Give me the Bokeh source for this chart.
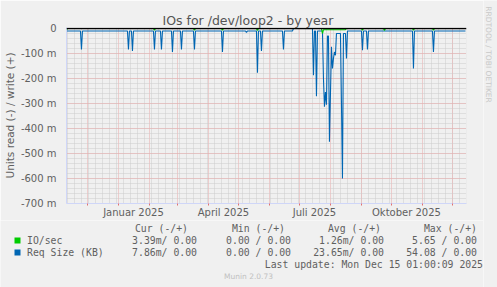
import math
import pandas as pd
from bokeh.plotting import figure
from bokeh.layouts import column, row
from bokeh.models import Range1d, FixedTicker, Span
from bokeh.core.properties import value
from bokeh.embed import file_html
from bokeh.resources import INLINE

# ---------------- data ----------------
TITLE = "IOs for /dev/loop2 - by year"
Y_LABEL = "Units read (-) / write (+)"
LAST_UPDATE = "2025-12-15 01:00:09"
RANGE_DAYS = 400

y_ticks = [0, -100, -200, -300, -400, -500, -600, -700]
y_tick_labels = ["0", "-100 m", "-200 m", "-300 m", "-400 m", "-500 m", "-600 m", "-700 m"]
y_minor_step = 20

x_label_dates = ["2025-01-16", "2025-04-16", "2025-07-16", "2025-10-16"]
x_label_texts = ["Januar 2025", "April 2025", "Juli 2025", "Oktober 2025"]

# Req Size (KB), read side (values in milli-units)
req_dates = [
    "2024-11-10", "2024-11-24", "2024-11-25", "2024-11-26",
    "2025-01-10", "2025-01-11", "2025-01-12",
    "2025-01-14", "2025-01-15", "2025-01-16",
    "2025-02-05", "2025-02-06", "2025-02-07",
    "2025-02-12", "2025-02-13", "2025-02-14",
    "2025-02-23", "2025-02-24", "2025-02-25",
    "2025-03-04", "2025-03-05", "2025-03-06",
    "2025-03-17", "2025-03-18", "2025-03-19",
    "2025-04-14", "2025-04-15", "2025-04-16",
    "2025-05-08", "2025-05-09", "2025-05-10",
    "2025-05-19", "2025-05-20", "2025-05-21",
    "2025-05-23", "2025-05-24", "2025-05-25",
    "2025-06-14", "2025-06-15", "2025-06-16",
    "2025-06-24", "2025-06-25", "2025-07-14",
    "2025-07-15", "2025-07-16", "2025-07-17", "2025-07-18", "2025-07-19",
    "2025-07-24", "2025-07-25", "2025-07-26", "2025-07-27", "2025-07-28",
    "2025-07-29", "2025-07-30", "2025-07-31", "2025-08-01", "2025-08-02",
    "2025-08-03", "2025-08-04", "2025-08-05", "2025-08-06", "2025-08-07",
    "2025-08-11", "2025-08-12", "2025-08-13", "2025-08-14", "2025-08-16",
    "2025-08-17", "2025-08-18",
    "2025-09-01", "2025-09-02", "2025-09-03",
    "2025-09-06", "2025-09-07", "2025-09-08",
    "2025-10-22", "2025-10-23", "2025-10-24",
    "2025-11-11", "2025-11-12", "2025-11-13",
    "2025-12-14",
]
req_vals = [
    -10, -10, -84, -10,
    -10, -84, -10,
    -10, -90, -10,
    -10, -84, -10,
    -10, -84, -10,
    -10, -94, -10,
    -10, -84, -10,
    -10, -84, -10,
    -10, -94, -10,
    -10, -16, -10,
    -10, -177, -10,
    -10, -90, -10,
    -10, -84, -10,
    -10, 0, 0,
    -187, -10, -10, -271, -10,
    -10, -200, -313, -254, -305,
    -30, -30, -453, -260, -73,
    -160, -120, -94, -107, -20,
    -20, -300, -600, -20, -20,
    -120, -10,
    -10, -87, -10,
    -10, -84, -10,
    -10, -160, -10,
    -10, -94, -10,
    -10,
]

# IO/sec, read side (values in milli-units)
io_dates = [
    "2024-11-10", "2024-11-11",
    "2025-02-05", "2025-02-06", "2025-02-07",
    "2025-03-17", "2025-03-18", "2025-03-19",
    "2025-04-14", "2025-04-15", "2025-04-16",
    "2025-05-19", "2025-05-20", "2025-05-21",
    "2025-07-23", "2025-07-24", "2025-07-25", "2025-07-26",
    "2025-08-16", "2025-08-17",
    "2025-09-01", "2025-09-02", "2025-09-03",
    "2025-09-23", "2025-09-24", "2025-09-25",
    "2025-10-22", "2025-10-23", "2025-10-24",
    "2025-11-11", "2025-11-12", "2025-11-13",
    "2025-12-14",
]
io_vals = [
    -7, 0,
    0, -7, 0,
    0, -7, 0,
    0, -7, 0,
    0, -8, 0,
    0, -20, -5, -5,
    -5, 0,
    0, -7, 0,
    0, -8, 0,
    0, -7, 0,
    0, -7, 0,
    0,
]

legend_names = ["IO/sec", "Req Size (KB)"]
legend_colors = ["#00CC00", "#0066B3"]
col_headers = ["Cur (-/+)", "Min (-/+)", "Avg (-/+)", "Max (-/+)"]
cur_vals = ["3.39m/ 0.00", "7.86m/ 0.00"]
min_vals = ["0.00 / 0.00", "0.00 / 0.00"]
avg_vals = ["1.26m/ 0.00", "23.65m/ 0.00"]
max_vals = ["5.65 / 0.00", "54.08 / 0.00"]
footer = "Munin 2.0.73"
side_text = "RRDTOOL / TOBI OETIKER"

# ---------------- styling ----------------
FONT = "DejaVu Sans"
MONO = "DejaVu Sans Mono"
TXT = "#606060"
BG = "#F0F0F0"
AXIS = "#CFD6F8"
W_MAIN = 483          # width of the left column (chart, legend)
W_SIDE = 497 - W_MAIN
H_CHART = 220
H_LEG = 287 - H_CHART
FRAME_LEFT, FRAME_RIGHT, FRAME_TOP, FRAME_BOTTOM = 66, 466, 27, 203


def no_align(f):
    try:
        f.frame_align = False
    except Exception:
        pass
    return f


def text_panel(width, height):
    """A plain drawing surface whose coordinates equal window pixels."""
    f = figure(width=width, height=height, output_backend="svg", toolbar_location=None,
               title_location=None,
               x_axis_type=None, y_axis_type=None, min_border=0,
               background_fill_color=BG, border_fill_color=BG, outline_line_color=None)
    return no_align(f)


# ---- chart
end = pd.Timestamp(LAST_UPDATE)
start = end - pd.Timedelta(days=RANGE_DAYS)

p = figure(width=W_MAIN, height=H_CHART, x_axis_type="datetime",
           output_backend="svg", toolbar_location=None,
           min_border_left=FRAME_LEFT, min_border_right=W_MAIN - FRAME_RIGHT,
           min_border_top=FRAME_TOP, min_border_bottom=H_CHART - FRAME_BOTTOM,
           background_fill_color=BG, border_fill_color=BG,
           outline_line_color=None)
no_align(p)
p.x_range = Range1d(start, end)
p.y_range = Range1d(-700, 4)

p.title.text = TITLE
p.title.align = "left"
p.title.offset = 162 - FRAME_LEFT
p.title.vertical_align = "bottom"
p.title.standoff = 0
p.title.text_font = FONT
p.title.text_font_size = "12.5px"
p.title.text_font_style = "normal"
p.title.text_color = "#555555"


def ms(ts):
    return int(pd.Timestamp(ts).value // 10**6)


month_starts = [ms(t) for t in pd.date_range("2024-12-01", "2025-12-01", freq="MS")]
week_starts = [ms(t) for t in pd.date_range("2024-11-11", "2025-12-15", freq="7D")]
label_ticks = [ms(d) for d in x_label_dates]

p.xaxis.ticker = FixedTicker(ticks=label_ticks, minor_ticks=month_starts)
p.xaxis.major_label_overrides = {t: s for t, s in zip(label_ticks, x_label_texts)}
p.xaxis.major_tick_line_color = None
p.xaxis.major_tick_out = 0
p.xaxis.major_tick_in = 0
p.xaxis.minor_tick_line_color = "#e07070"
p.xaxis.minor_tick_out = 2
p.xaxis.minor_tick_in = 0
p.xaxis.axis_line_color = AXIS
p.xaxis.major_label_standoff = 1
p.xaxis.major_label_text_font = FONT
p.xaxis.major_label_text_font_size = "10px"
p.xaxis.major_label_text_color = TXT

y_minor = list(range(-700, 1, y_minor_step))
p.yaxis.ticker = FixedTicker(ticks=y_ticks, minor_ticks=y_minor)
p.yaxis.major_label_overrides = {t: s for t, s in zip(y_ticks, y_tick_labels)}
p.yaxis.major_tick_line_color = None
p.yaxis.major_tick_out = 0
p.yaxis.major_tick_in = 0
p.yaxis.minor_tick_line_color = None
p.yaxis.axis_line_color = AXIS
p.yaxis.major_label_standoff = 6
p.yaxis.major_label_text_font = FONT
p.yaxis.major_label_text_font_size = "10px"
p.yaxis.major_label_text_color = TXT
p.yaxis.axis_label = Y_LABEL
p.yaxis.axis_label_text_font = FONT
p.yaxis.axis_label_text_font_size = "10.5px"
p.yaxis.axis_label_text_font_style = "normal"
p.yaxis.axis_label_text_color = TXT
p.yaxis.axis_label_standoff = 2

p.xgrid.ticker = FixedTicker(ticks=month_starts, minor_ticks=week_starts)
for g in (p.xgrid, p.ygrid):
    g.grid_line_color = "#EBA8A8"
    g.grid_line_dash = "1 1"
    g.grid_line_width = 1
    g.minor_grid_line_color = "#CDCDCD"
    g.minor_grid_line_dash = "1 1"
    g.minor_grid_line_width = 1

req_x = pd.to_datetime(req_dates)
io_x = pd.to_datetime(io_dates)
p.line(req_x, req_vals, line_color="#0066B3", line_width=1.1)
p.line(io_x, io_vals, line_color="#00CC00", line_width=1.1)
p.add_layout(Span(location=0, dimension="width", line_color="black", line_width=1.6))

# ---- legend block
leg = text_panel(W_MAIN, H_LEG)
leg.x_range = Range1d(0, W_MAIN)
leg.y_range = Range1d(287, H_CHART)

mono = dict(text_font=value(MONO), text_font_size=value("9.8px"), text_color=TXT,
            text_baseline="middle")
header_right = [187.5, 284.5, 380.5, 476.5]
value_right = [196.5, 290.5, 383.5, 476.5]
leg.text(x=header_right, y=[227.5] * 4, text=col_headers, text_align="right", **mono)

row_y = [240, 252]
leg.quad(left=[14, 14], right=[20, 20], top=[y - 3 for y in row_y],
         bottom=[y + 3 for y in row_y], fill_color=legend_colors, line_color=None)
leg.text(x=[26.5, 26.5], y=row_y, text=legend_names, text_align="left", **mono)
for vals, xr in zip((cur_vals, min_vals, avg_vals, max_vals), value_right):
    leg.text(x=[xr, xr], y=row_y, text=vals, text_align="right", **mono)

last = pd.Timestamp(LAST_UPDATE).strftime("Last update: %a %b %d %H:%M:%S %Y")
leg.text(x=[482.5], y=[263.5], text=[last], text_align="right", **mono)
leg.text(x=[248], y=[276], text=[footer], text_font=value(FONT), text_font_size=value("7.5px"),
         text_color="#C0C0C0", text_align="center", text_baseline="middle")

# ---- right strip with the rrdtool credit
side = text_panel(W_SIDE, 287)
side.x_range = Range1d(W_MAIN, 497)
side.y_range = Range1d(287, 0)
side.text(x=[488], y=[54], text=[side_text], text_font=value(FONT), text_font_size=value("7.5px"),
          text_color="#C8C8C8", text_align="center", text_baseline="middle", angle=-math.pi / 2)

layout = row(column(p, leg, spacing=0), side, spacing=0)
open("out.html", "w").write(file_html(layout, INLINE))
